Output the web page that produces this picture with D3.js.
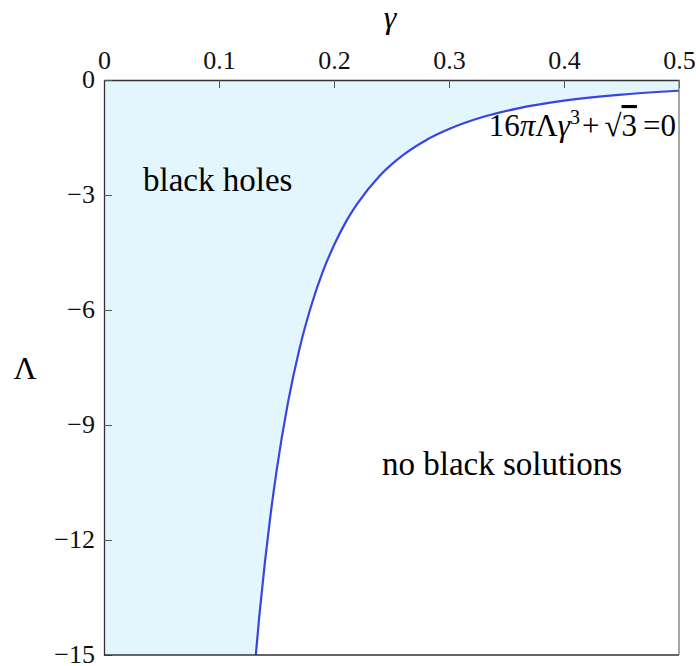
<!DOCTYPE html>
<html>
<head>
<meta charset="UTF-8">
<script src="https://d3js.org/d3.v7.min.js"></script>
</head>
<body style="margin:0">
<svg id="bhSvg" width="696" height="666"></svg>
<script>
// values: boundary curve 16*pi*L*g^3 + sqrt(3) = 0
var gammaVals = [0.13, 0.135, 0.14, 0.145, 0.15, 0.16, 0.17, 0.18, 0.19, 0.2, 0.21, 0.22, 0.24, 0.26, 0.28, 0.3, 0.33, 0.36, 0.4, 0.45, 0.5];
var lambdaVals = [-15.68, -14.0, -12.56, -11.3, -10.21, -8.41, -7.01, -5.91, -5.02, -4.31, -3.72, -3.24, -2.49, -1.96, -1.57, -1.28, -0.96, -0.74, -0.54, -0.38, -0.28];
var xTicks = [0, 0.1, 0.2, 0.3, 0.4, 0.5];
var yTicks = [0, -3, -6, -9, -12, -15];
var xTickLabels = ["0", "0.1", "0.2", "0.3", "0.4", "0.5"];
var yTickLabels = ["0", "\u22123", "\u22126", "\u22129", "\u221212", "\u221215"];

var FONT = "'Liberation Serif', 'Times New Roman', serif";
var mLeft = 104, mRight = 679, mTop = 80, mBottom = 655;
var svg = d3.select("#bhSvg");

var x = d3.scaleLinear().domain([0, 0.5]).range([mLeft, mRight]);
var y = d3.scaleLinear().domain([-15, 0]).range([mBottom, mTop]);

var pts = gammaVals.map(function(g, i) { return [g, lambdaVals[i]]; });

svg.append("clipPath").attr("id", "plotClip")
  .append("rect").attr("x", mLeft).attr("y", mTop).attr("width", mRight - mLeft).attr("height", mBottom - mTop);

// black hole region: whole frame blue, then white under the curve
svg.append("rect").attr("x", mLeft).attr("y", mTop).attr("width", mRight - mLeft).attr("height", mBottom - mTop)
  .attr("fill", "#e3f6fd");

var area = d3.area()
  .x(function(d) { return x(d[0]); })
  .y0(y(-15) + 40)
  .y1(function(d) { return y(d[1]); })
  .curve(d3.curveMonotoneX);

var plot = svg.append("g").attr("clip-path", "url(#plotClip)");
plot.append("path").datum(pts).attr("d", area).attr("fill", "#fff");

var line = d3.line()
  .x(function(d) { return x(d[0]); })
  .y(function(d) { return y(d[1]); })
  .curve(d3.curveMonotoneX);
plot.append("path").datum(pts).attr("d", line)
  .attr("fill", "none").attr("stroke", "#3a44e0").attr("stroke-width", 2.2);

// axes (ticks point into the frame)
var xAxis = d3.axisTop(x).tickValues(xTicks).tickSizeInner(-8).tickSizeOuter(0)
  .tickFormat(function(d, i) { return xTickLabels[i]; });
var gx = svg.append("g").attr("transform", "translate(0," + mTop + ")").call(xAxis);
gx.attr("font-family", null);
gx.select(".domain").attr("stroke", "#333").attr("stroke-width", 1.3);
gx.selectAll(".tick line").attr("stroke", "#555");
gx.selectAll(".tick text").attr("y", -11).attr("dy", 0).attr("font-size", 26).attr("fill", "#111");

var yAxis = d3.axisLeft(y).tickValues(yTicks).tickSizeInner(-8).tickSizeOuter(0)
  .tickFormat(function(d, i) { return yTickLabels[i]; });
var gy = svg.append("g").attr("transform", "translate(" + mLeft + ",0)").call(yAxis);
gy.attr("font-family", null);
gy.select(".domain").attr("stroke", "#333").attr("stroke-width", 1.3);
gy.selectAll(".tick line").attr("stroke", "#555");
gy.selectAll(".tick text").attr("x", -9).attr("dy", "0.3em").attr("font-size", 26).attr("fill", "#111");

// other frame edges
svg.append("line").attr("x1", mLeft).attr("x2", mRight).attr("y1", mBottom).attr("y2", mBottom)
  .attr("stroke", "#333").attr("stroke-width", 1.3);
svg.append("line").attr("x1", mRight).attr("x2", mRight).attr("y1", mTop).attr("y2", mBottom)
  .attr("stroke", "#777").attr("stroke-width", 1.3);

// axis titles
svg.append("text").attr("x", 390).attr("y", 28).attr("text-anchor", "middle")
  .attr("font-size", 32).attr("font-style", "italic").text("\u03b3");
svg.append("text").attr("x", 25).attr("y", 379).attr("text-anchor", "middle")
  .attr("font-size", 32).text("\u039b");

// region labels
svg.append("text").attr("x", 143).attr("y", 191).attr("font-size", 33).text("black holes");
svg.append("text").attr("x", 382).attr("y", 475).attr("font-size", 33).text("no black solutions");

// curve equation
var eq = svg.append("text").attr("x", 676).attr("y", 136).attr("text-anchor", "end").attr("font-size", 31);
eq.append("tspan").text("16");
eq.append("tspan").attr("font-style", "italic").text("\u03c0");
eq.append("tspan").text("\u039b");
eq.append("tspan").attr("font-style", "italic").text("\u03b3");
eq.append("tspan").attr("font-size", 20).attr("dy", -12).text("3");
eq.append("tspan").attr("dy", 12).attr("dx", 2).text("+");
eq.append("tspan").attr("dx", 5).text("\u221a");
eq.append("tspan").attr("text-decoration", "overline").text("3");
eq.append("tspan").attr("dx", 6).text("=0");

// serif on every text, marked important in case something else overrides it
svg.selectAll("text, tspan").each(function() {
  this.style.setProperty("font-family", FONT, "important");
});
</script>
</body>
</html>
